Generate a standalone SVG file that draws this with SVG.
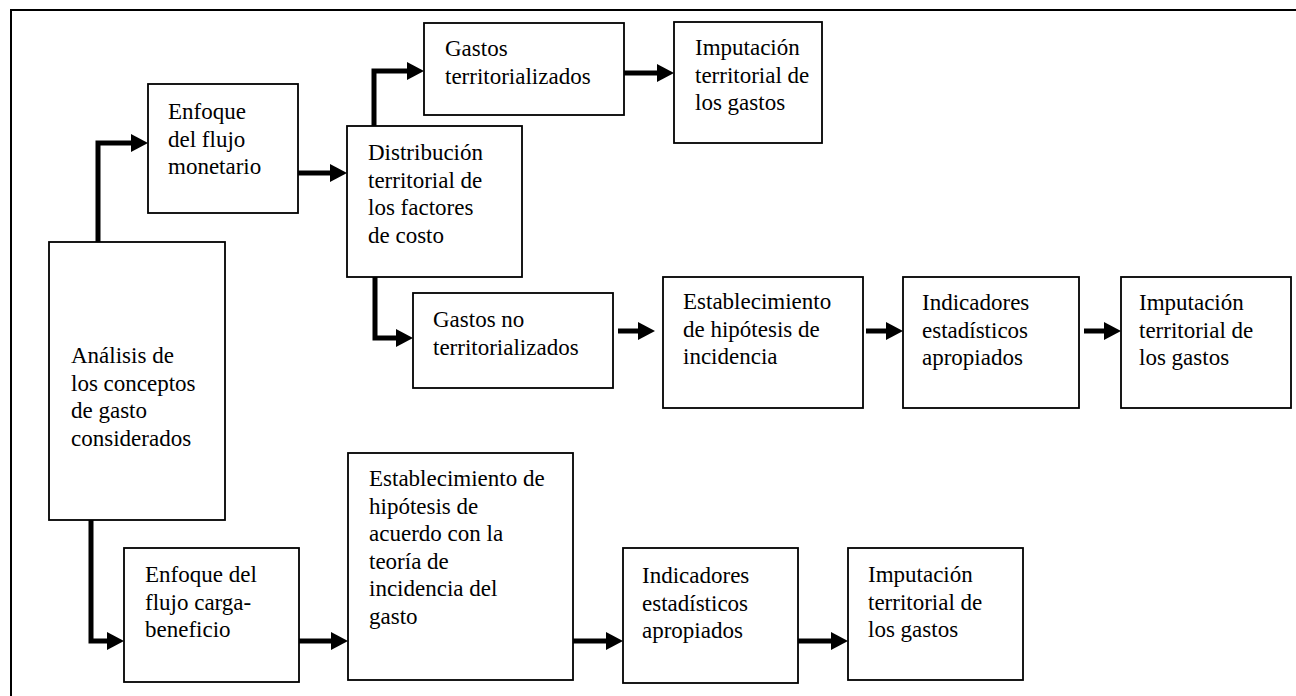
<svg xmlns="http://www.w3.org/2000/svg" width="1296" height="696" viewBox="0 0 1296 696">
<style>
.box{fill:#fff;stroke:#000;stroke-width:1.8}
.lbl{font-family:"Liberation Serif","Times New Roman",serif;font-size:23px;fill:#000}
.con{fill:none;stroke:#000;stroke-width:5;stroke-linejoin:miter;marker-end:url(#ah)}
.frame{fill:none;stroke:#000;stroke-width:2}
</style>
<defs>
<marker id="ah" markerUnits="userSpaceOnUse" markerWidth="17" markerHeight="18" refX="0" refY="9" orient="auto" viewBox="0 0 17 18">
<path d="M0,0 L17,9 L0,18 z" fill="#000"/>
</marker>
</defs>
<rect width="1296" height="696" fill="#fff"/>
<path class="frame" d="M1296,10 H11 V696"/>

<g id="connectors">
<path class="con" d="M98,242 V143 H131"/>
<path class="con" d="M298,173 H330"/>
<path class="con" d="M374,126 V71 H407"/>
<path class="con" d="M624,73 H657"/>
<path class="con" d="M375,277 V338 H396"/>
<path class="con" d="M618,331 H638"/>
<path class="con" d="M866,331 H886"/>
<path class="con" d="M1084,331 H1104"/>
<path class="con" d="M91,520 V641 H107"/>
<path class="con" d="M299,641 H331"/>
<path class="con" d="M573,641 H606"/>
<path class="con" d="M798,641 H831"/>
</g>

<g id="analisis">
<rect class="box" x="49" y="242" width="176" height="278"/>
<text class="lbl"><tspan x="71" y="363">Análisis de</tspan><tspan x="71" y="390.6">los conceptos</tspan><tspan x="71" y="418.2">de gasto</tspan><tspan x="71" y="445.8">considerados</tspan></text>
</g>

<g id="enfoque-monetario">
<rect class="box" x="148" y="84" width="150" height="129"/>
<text class="lbl"><tspan x="168" y="119">Enfoque</tspan><tspan x="168" y="146.6">del flujo</tspan><tspan x="168" y="174.2">monetario</tspan></text>
</g>

<g id="distribucion">
<rect class="box" x="347" y="126" width="175" height="151"/>
<text class="lbl"><tspan x="368" y="160">Distribución</tspan><tspan x="368" y="187.6">territorial de</tspan><tspan x="368" y="215.2">los factores</tspan><tspan x="368" y="242.8">de costo</tspan></text>
</g>

<g id="gastos-territorializados">
<rect class="box" x="424" y="23" width="200" height="92"/>
<text class="lbl"><tspan x="445" y="56">Gastos</tspan><tspan x="445" y="83.6">territorializados</tspan></text>
</g>

<g id="imputacion-1">
<rect class="box" x="674" y="22" width="148" height="121"/>
<text class="lbl"><tspan x="695" y="55">Imputación</tspan><tspan x="695" y="82.6">territorial de</tspan><tspan x="695" y="110.2">los gastos</tspan></text>
</g>

<g id="gastos-no-territorializados">
<rect class="box" x="413" y="293" width="200" height="95"/>
<text class="lbl"><tspan x="433" y="327">Gastos no</tspan><tspan x="433" y="354.6">territorializados</tspan></text>
</g>

<g id="establecimiento-1">
<rect class="box" x="663" y="277" width="200" height="131"/>
<text class="lbl"><tspan x="683" y="309">Establecimiento</tspan><tspan x="683" y="336.6">de hipótesis de</tspan><tspan x="683" y="364.2">incidencia</tspan></text>
</g>

<g id="indicadores-1">
<rect class="box" x="903" y="277" width="176" height="131"/>
<text class="lbl"><tspan x="922" y="310">Indicadores</tspan><tspan x="922" y="337.6">estadísticos</tspan><tspan x="922" y="365.2">apropiados</tspan></text>
</g>

<g id="imputacion-2">
<rect class="box" x="1121" y="277" width="170" height="131"/>
<text class="lbl"><tspan x="1139" y="310">Imputación</tspan><tspan x="1139" y="337.6">territorial de</tspan><tspan x="1139" y="365.2">los gastos</tspan></text>
</g>

<g id="enfoque-carga">
<rect class="box" x="124" y="548" width="175" height="134"/>
<text class="lbl"><tspan x="145" y="582">Enfoque del</tspan><tspan x="145" y="609.6">flujo carga-</tspan><tspan x="145" y="637.2">beneficio</tspan></text>
</g>

<g id="establecimiento-2">
<rect class="box" x="348" y="453" width="225" height="227"/>
<text class="lbl"><tspan x="369" y="486">Establecimiento de</tspan><tspan x="369" y="513.6">hipótesis de</tspan><tspan x="369" y="541.2">acuerdo con la</tspan><tspan x="369" y="568.8">teoría de</tspan><tspan x="369" y="596.4">incidencia del</tspan><tspan x="369" y="624">gasto</tspan></text>
</g>

<g id="indicadores-2">
<rect class="box" x="623" y="548" width="175" height="135"/>
<text class="lbl"><tspan x="642" y="583">Indicadores</tspan><tspan x="642" y="610.6">estadísticos</tspan><tspan x="642" y="638.2">apropiados</tspan></text>
</g>

<g id="imputacion-3">
<rect class="box" x="848" y="548" width="175" height="132"/>
<text class="lbl"><tspan x="868" y="582">Imputación</tspan><tspan x="868" y="609.6">territorial de</tspan><tspan x="868" y="637.2">los gastos</tspan></text>
</g>
</svg>
